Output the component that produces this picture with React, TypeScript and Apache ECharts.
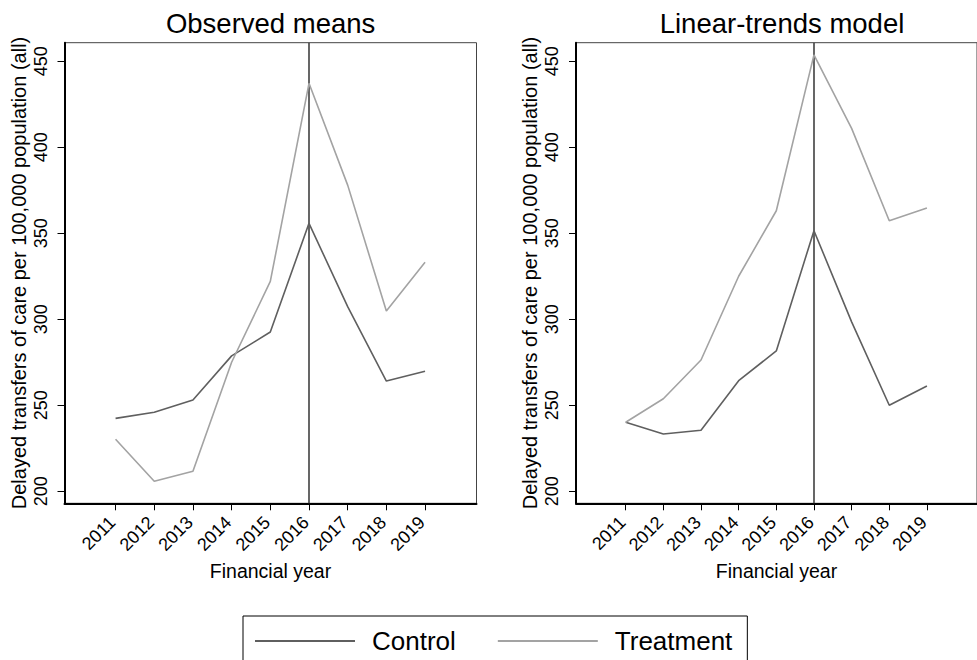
import React, { useEffect, useRef } from "react";
import * as echarts from "echarts";

const years = [2011, 2012, 2013, 2014, 2015, 2016, 2017, 2018, 2019];
const obsControl = [242.4, 245.9, 253.1, 278.7, 292.6, 355.8, 307.3, 264.1, 269.8];
const obsTreatment = [230.2, 205.8, 211.6, 275.0, 322.0, 437.2, 378.0, 304.8, 333.1];
const ltControl = [240.1, 233.3, 235.5, 264.3, 281.6, 351.5, 298.5, 250.0, 261.2];
const ltTreatment = [240.1, 253.8, 276.3, 325.0, 363.1, 453.7, 411.0, 357.3, 364.7];
const yTicks = [200, 250, 300, 350, 400, 450];
const policyYear = 2016;
const panelTitles = ["Observed means", "Linear-trends model"];
const seriesNames = ["Control", "Treatment"];
const yTitle = "Delayed transfers of care per 100,000 population (all)";
const xTitle = "Financial year";

const FONT = "'Liberation Sans', Arial, Helvetica, sans-serif";
const C_CONTROL = "#5f5f5f";
const C_TREAT = "#a3a3a3";

export default function App() {
  const ref = useRef<HTMLDivElement>(null);
  useEffect(() => {
    if (!ref.current) return;
    const chart = echarts.init(ref.current, undefined, { renderer: "svg" });
    const grids = [
      { left: 64.5, top: 42.7, width: 412, height: 460.6 },
      { left: 576, top: 42.7, width: 412, height: 460.6 },
    ];
    const titleCenters = [270.6, 782];
    const mkX = (i: number) => ({
      type: "value",
      gridIndex: i,
      min: 2009.68,
      max: 2020.33,
      axisLine: { show: true, onZero: false, lineStyle: { color: "#000", width: 2 } },
      axisTick: { show: true, length: 7, customValues: years, lineStyle: { color: "#000", width: 1 } },
      axisLabel: {
        customValues: years,
        rotate: 45,
        margin: 13,
        padding: [0, 4.5, 0, 0],
        color: "#000",
        fontSize: 18,
        fontFamily: FONT,
        formatter: (v: number) => String(v),
      },
      splitLine: { show: false },
      name: xTitle,
      nameLocation: "middle",
      nameGap: 57,
      nameTextStyle: { color: "#000", fontSize: 19.5, fontFamily: FONT },
    });
    const mkY = (i: number) => ({
      type: "value",
      gridIndex: i,
      min: 193,
      max: 460.8,
      axisLine: { show: true, onZero: false, lineStyle: { color: "#000", width: 2 } },
      axisTick: { show: true, length: 7, customValues: yTicks, lineStyle: { color: "#000", width: 1 } },
      axisLabel: {
        customValues: yTicks,
        rotate: 90,
        margin: 15,
        color: "#000",
        fontSize: 18,
        fontFamily: FONT,
      },
      splitLine: { show: false },
      name: yTitle,
      nameLocation: "middle",
      nameRotate: 90,
      nameGap: 36,
      nameTextStyle: { color: "#000", fontSize: 20, fontFamily: FONT },
    });
    const mkSeries = (name: string, vals: number[], color: string, gi: number, withMark: boolean) => ({
      type: "line",
      name,
      xAxisIndex: gi,
      yAxisIndex: gi,
      data: years.map((y, k) => [y, vals[k]]),
      showSymbol: false,
      symbol: "none",
      color,
      lineStyle: { color, width: 1.6 },
      z: 3,
      markLine: withMark
        ? {
            silent: true,
            symbol: "none",
            label: { show: false },
            lineStyle: { color: "#404040", width: 1.6, type: "solid" },
            data: [{ xAxis: policyYear }],
            z: 2,
          }
        : undefined,
    });
    chart.setOption({
      animation: false,
      backgroundColor: "#fff",
      textStyle: { fontFamily: FONT },
      title: panelTitles.map((t, i) => ({
        text: t,
        left: titleCenters[i],
        textAlign: "center",
        top: 9,
        padding: 0,
        textStyle: { color: "#000", fontSize: 27.5, fontWeight: "normal", fontFamily: FONT },
      })),
      grid: grids.map((g) => ({
        ...g,
        show: true,
        borderColor: "#444",
        borderWidth: 1,
        backgroundColor: "transparent",
        containLabel: false,
      })),
      xAxis: [mkX(0), mkX(1)],
      yAxis: [mkY(0), mkY(1)],
      legend: {
        left: 243,
        top: 616,
        orient: "horizontal",
        icon: "rect",
        itemWidth: 100,
        itemHeight: 2,
        itemGap: 42,
        padding: [12, 15, 30, 12],
        borderColor: "#000",
        borderWidth: 1,
        data: seriesNames,
        textStyle: { color: "#000", fontSize: 26, fontFamily: FONT, padding: [0, 0, 0, 12] },
      },
      series: [
        mkSeries(seriesNames[0], obsControl, C_CONTROL, 0, true),
        mkSeries(seriesNames[1], obsTreatment, C_TREAT, 0, false),
        mkSeries(seriesNames[0], ltControl, C_CONTROL, 1, true),
        mkSeries(seriesNames[1], ltTreatment, C_TREAT, 1, false),
      ],
    });
    return () => chart.dispose();
  }, []);
  return (
    <div
      ref={ref}
      style={{ position: "fixed", left: 0, top: 0, width: 977, height: 660, overflow: "hidden", background: "#fff" }}
    />
  );
}
